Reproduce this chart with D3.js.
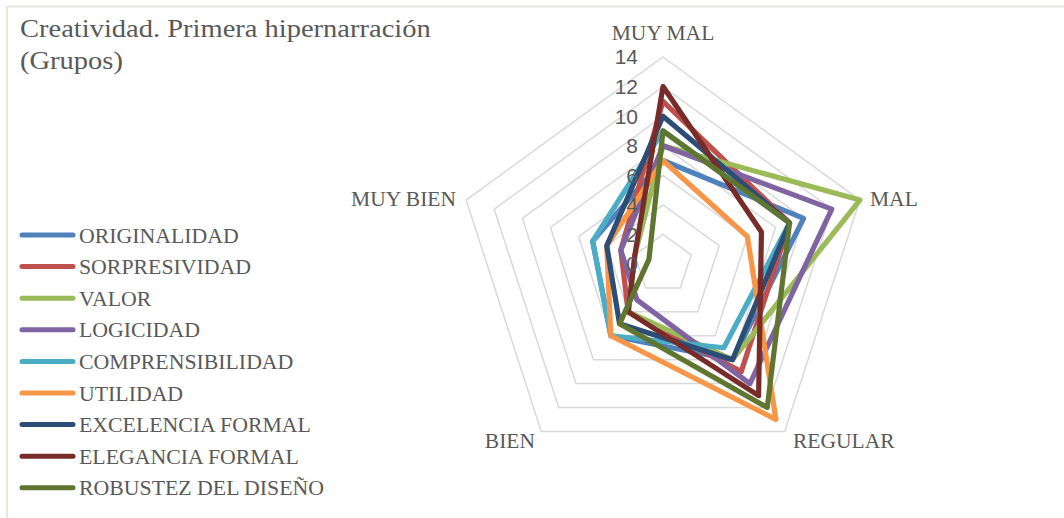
<!DOCTYPE html>
<html><head><meta charset="utf-8">
<script src="https://cdn.jsdelivr.net/npm/d3@7"></script>
<style>html,body{margin:0;padding:0;background:#fff;}svg{display:block;}</style>
</head><body>
<svg id="chart" width="1064" height="518"></svg>
<script>
const categories = ["MUY MAL", "MAL", "REGULAR", "BIEN", "MUY BIEN"];
const seriesNames = ["ORIGINALIDAD", "SORPRESIVIDAD", "VALOR", "LOGICIDAD", "COMPRENSIBILIDAD", "UTILIDAD", "EXCELENCIA FORMAL", "ELEGANCIA FORMAL", "ROBUSTEZ DEL DISEÑO"];
const originalidad = [7, 10, 8, 6, 5];
const sorpresividad = [11, 9, 9, 4, 3];
const valor = [8, 14, 8, 4, 2];
const logicidad = [8, 12, 10, 3, 3];
const comprensibilidad = [9, 9, 7, 6, 5];
const utilidad = [7, 6, 13, 6, 4];
const excelencia = [10, 9, 8, 5, 4];
const elegancia = [12, 7, 11, 4, 2];
const robustez = [9, 9, 12, 5, 1];
const tickValues = [0, 2, 4, 6, 8, 10, 12, 14];
const colors = ["#4F81BD", "#C0504D", "#9BBB59", "#8064A2", "#4BACC6", "#F79646", "#2C4D75", "#772C2A", "#5F7530"];
const titleLines = ["Creatividad. Primera hipernarración", "(Grupos)"];

const seriesValues = [originalidad, sorpresividad, valor, logicidad, comprensibilidad, utilidad, excelencia, elegancia, robustez];

const svg = d3.select("#chart");
const cx = 663, cy = 264, R = 207;
const r = d3.scaleLinear().domain([0, 14]).range([0, R]);
const angle = d3.scalePoint().domain(categories).range([0, 2 * Math.PI * 4 / 5]);
const textColor = "#595959";

// frame
svg.append("line").attr("x1", 7).attr("y1", 6.5).attr("x2", 1064).attr("y2", 6.5).attr("stroke", "#EAE6DE").attr("stroke-width", 2);
svg.append("line").attr("x1", 7).attr("y1", 6).attr("x2", 7).attr("y2", 518).attr("stroke", "#EAE6DE").attr("stroke-width", 2);

const g = svg.append("g").attr("transform", `translate(${cx},${cy})`);

// grid rings
const ring = d3.lineRadial().curve(d3.curveLinearClosed);
tickValues.filter(t => t > 0).forEach(t => {
  g.append("path")
    .attr("d", ring(categories.map(c => [angle(c), r(t)])))
    .attr("fill", "none").attr("stroke", "#D9D9D9").attr("stroke-width", 1.5);
});

// series
const line = d3.lineRadial()
  .angle((d, i) => angle(categories[i]))
  .radius(d => r(d))
  .curve(d3.curveLinearClosed);
seriesValues.forEach((vals, i) => {
  g.append("path").attr("d", line(vals))
    .attr("fill", "none").attr("stroke", colors[i]).attr("stroke-width", 5.2)
    .attr("stroke-linejoin", "round");
});

// tick labels
tickValues.forEach(t => {
  g.append("text").attr("x", -25).attr("y", -r(t)).attr("dy", "0.35em")
    .attr("text-anchor", "end").attr("font-family", "Liberation Sans, Arial, sans-serif")
    .attr("font-size", 21).attr("fill", textColor).text(t);
});

// category labels
const catFont = "Liberation Serif, Times New Roman, serif";
const labelPos = [
  {x: 663, y: 32, anchor: "middle"},
  {x: 870, y: 198, anchor: "start"},
  {x: 793, y: 440, anchor: "start"},
  {x: 535, y: 440, anchor: "end"},
  {x: 456, y: 198, anchor: "end"}
];
categories.forEach((c, i) => {
  svg.append("text").attr("x", labelPos[i].x).attr("y", labelPos[i].y).attr("dy", "0.35em")
    .attr("text-anchor", labelPos[i].anchor).attr("font-family", catFont)
    .attr("font-size", 21.5).attr("fill", textColor).text(c);
});

// title
titleLines.forEach((t, i) => {
  const tx = svg.append("text").attr("x", 20).attr("y", 28 + i * 32).attr("dy", "0.35em")
    .attr("font-family", catFont).attr("font-size", 25).attr("fill", textColor).text(t);
  const w = tx.node().getComputedTextLength();
  tx.attr("textLength", w * 1.14).attr("lengthAdjust", "spacingAndGlyphs");
});

// legend
const legend = svg.append("g");
seriesNames.forEach((n, i) => {
  const y = 235 + i * 31.6;
  legend.append("line").attr("x1", 22).attr("x2", 73).attr("y1", y).attr("y2", y)
    .attr("stroke", colors[i]).attr("stroke-width", 5).attr("stroke-linecap", "round");
  legend.append("text").attr("x", 79).attr("y", y).attr("dy", "0.35em")
    .attr("font-family", catFont).attr("font-size", 21.8).attr("fill", textColor).text(n);
});
</script>
</body></html>
